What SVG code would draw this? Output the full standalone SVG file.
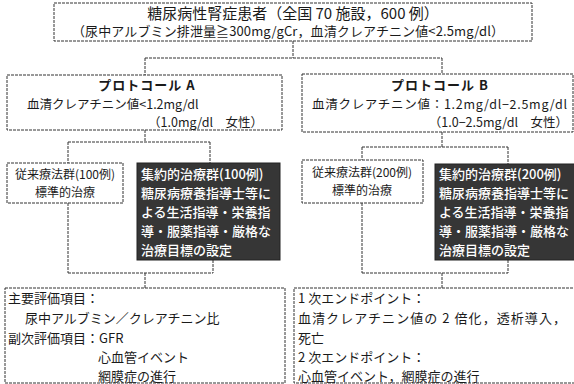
<svg xmlns="http://www.w3.org/2000/svg" width="574" height="384" viewBox="0 0 574 384">
<style>
text{font-family:"Noto Sans CJK JP","Noto Sans CJK SC",sans-serif;fill:#1a1a1a;font-size:13px}
.box{fill:#ffffff;stroke:#333;stroke-width:1;stroke-dasharray:3 1}
.dark{fill:#363636;stroke:#222;stroke-width:1}
.wt{fill:#ffffff;font-size:13px;font-weight:500}
.p{font-size:12.5px}
.s{font-size:12px}
.c{text-anchor:middle}
.e{text-anchor:end}
.b{font-weight:bold;letter-spacing:1px}
#connectors line{stroke:#333;stroke-width:1;stroke-dasharray:3 1}
</style>
<rect width="574" height="384" fill="#ffffff"/>
<g id="connectors">
<line x1="293" y1="41" x2="293" y2="58"/>
<line x1="145" y1="58" x2="442" y2="58"/>
<line x1="145" y1="58" x2="145" y2="75"/>
<line x1="442" y1="58" x2="442" y2="74"/>
<line x1="145" y1="130" x2="145" y2="142"/>
<line x1="68" y1="142" x2="210" y2="142"/>
<line x1="68" y1="142" x2="68" y2="163"/>
<line x1="210" y1="142" x2="210" y2="163"/>
<line x1="442" y1="132" x2="442" y2="147"/>
<line x1="362" y1="147" x2="508" y2="147"/>
<line x1="362" y1="147" x2="362" y2="160"/>
<line x1="508" y1="147" x2="508" y2="164"/>
<line x1="68" y1="203" x2="68" y2="273"/>
<line x1="213" y1="260" x2="213" y2="273"/>
<line x1="68" y1="273" x2="213" y2="273"/>
<line x1="145" y1="273" x2="145" y2="288"/>
<line x1="362" y1="203" x2="362" y2="273"/>
<line x1="508" y1="260" x2="508" y2="273"/>
<line x1="362" y1="273" x2="508" y2="273"/>
<line x1="442" y1="273" x2="442" y2="288"/>
</g>
<g id="top">
<rect class="box" x="54" y="3" width="478" height="38"/>
<text class="c" x="293" y="19" style="font-size:15px">糖尿病性腎症患者（全国 70 施設，600 例）</text>
<text x="72" y="36" textLength="432">（尿中アルブミン排泄量≧300mg/gCr，血清クレアチニン値&lt;2.5mg/dl）</text>
</g>
<g id="protocolA">
<rect class="box" x="7" y="75" width="275" height="55"/>
<text class="c b" x="147" y="90">プロトコール A</text>
<text class="p" x="27" y="109">血清クレアチニン値&lt;1.2mg/dl</text>
<text class="p e" x="263" y="127">（1.0mg/dl　女性）</text>
</g>
<g id="protocolB">
<rect class="box" x="302" y="74" width="271" height="58"/>
<text class="c b" x="440" y="90">プロトコール B</text>
<text class="p" x="312" y="109" textLength="255">血清クレアチニン値：1.2mg/dl−2.5mg/dl</text>
<text class="p e" x="568" y="127">（1.0−2.5mg/dl　女性）</text>
</g>
<g id="convA">
<rect class="box" x="7" y="163" width="116" height="40"/>
<text class="c s" x="65" y="179">従来療法群(100例)</text>
<text class="c s" x="65" y="197">標準的治療</text>
</g>
<g id="intA">
<rect class="dark" x="137" y="163" width="143" height="97"/>
<text class="wt" x="141" y="179">集約的治療群(100例)</text>
<text class="wt" x="141" y="198">糖尿病療養指導士等に</text>
<text class="wt" x="141" y="217">よる生活指導・栄養指</text>
<text class="wt" x="141" y="236">導・服薬指導・厳格な</text>
<text class="wt" x="141" y="255">治療目標の設定</text>
</g>
<g id="convB">
<rect class="box" x="302" y="160" width="121" height="43"/>
<text class="c s" x="362" y="177">従来療法群(200例)</text>
<text class="c s" x="362" y="195">標準的治療</text>
</g>
<g id="intB">
<rect class="dark" x="435" y="164" width="145" height="96"/>
<text class="wt" x="439" y="179">集約的治療群(200例)</text>
<text class="wt" x="439" y="198">糖尿病療養指導士等に</text>
<text class="wt" x="439" y="217">よる生活指導・栄養指</text>
<text class="wt" x="439" y="236">導・服薬指導・厳格な</text>
<text class="wt" x="439" y="255">治療目標の設定</text>
</g>
<g id="endA">
<rect class="box" x="5" y="288" width="280" height="95"/>
<text x="8" y="303">主要評価項目：</text>
<text x="25" y="323">尿中アルブミン／クレアチニン比</text>
<text x="8" y="343">副次評価項目：GFR</text>
<text x="98" y="362">心血管イベント</text>
<text x="98" y="381">網膜症の進行</text>
</g>
<g id="endB">
<rect class="box" x="294" y="288" width="285" height="95"/>
<text x="298" y="303">1 次エンドポイント：</text>
<text x="298" y="323" textLength="268">血清クレアチニン値の 2 倍化，透析導入，</text>
<text x="298" y="343">死亡</text>
<text x="298" y="362">2 次エンドポイント：</text>
<text x="298" y="381">心血管イベント，網膜症の進行</text>
</g>
</svg>
